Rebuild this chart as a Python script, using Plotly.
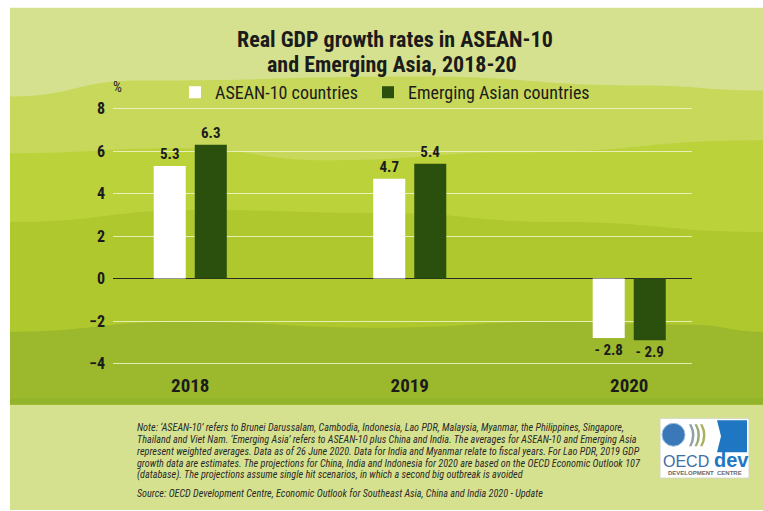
import plotly.graph_objects as go

# ---------------- data ----------------
years = ["2018", "2019", "2020"]
asean10 = [5.3, 4.7, -2.8]
emerging_asia = [6.3, 5.4, -2.9]
series_names = ["ASEAN-10 countries", "Emerging Asian countries"]
y_ticks = [-4, -2, 0, 2, 4, 6, 8]

title_lines = ["Real GDP growth rates in ASEAN-10", "and Emerging Asia, 2018-20"]
note_lines = [
    "Note: ‘ASEAN-10’ refers to Brunei Darussalam, Cambodia, Indonesia, Lao PDR, Malaysia, Myanmar, the Philippines, Singapore,",
    "Thailand and Viet Nam. ‘Emerging Asia’ refers to ASEAN-10 plus China and India. The averages for ASEAN-10 and Emerging Asia",
    "represent weighted averages. Data as of 26 June 2020. Data for India and Myanmar relate to fiscal years. For Lao PDR, 2019 GDP",
    "growth data are estimates. The projections for China, India and Indonesia for 2020 are based on the OECD Economic Outlook 107",
    "(database). The projections assume single hit scenarios, in which a second big outbreak is avoided",
]
source_line = "Source: OECD Development Centre, Economic Outlook for Southeast Asia, China and India 2020 - Update"

# ---------------- layout geometry (pixels) ----------------
W, H = 763, 511
PL, PR, PT, PB = 113, 692, 99.5, 372.5   # plot area edges


def px(x):
    return (x - PL) / (PR - PL)


def py(y):
    return (PB - y) / (PB - PT)


NARROW = "Liberation Sans Narrow, Arial Narrow, Roboto Condensed, DejaVu Sans Condensed, sans-serif"
TXT = "#1b1b1b"


def fmt(v):
    return f"{v:.1f}" if v >= 0 else f"- {abs(v):.1f}"


def wave_path(points, bottom):
    d = f"M {px(points[0][0])},{py(bottom)} L {px(points[0][0])},{py(points[0][1])}"
    for (x0, y0), (x1, y1) in zip(points[:-1], points[1:]):
        dx = (x1 - x0) / 2
        d += (f" C {px(x0 + dx)},{py(y0)} {px(x1 - dx)},{py(y1)} {px(x1)},{py(y1)}")
    d += f" L {px(points[-1][0])},{py(bottom)} Z"
    return d


fig = go.Figure()
fig.add_trace(go.Bar(
    x=years, y=asean10, name=series_names[0], legend="legend",
    marker=dict(color="#ffffff", line=dict(width=0)),
    text=[fmt(v) for v in asean10], textposition="outside",
    textfont=dict(family=NARROW, size=15, color=TXT, weight="bold"),
    cliponaxis=False,
))
fig.add_trace(go.Bar(
    x=years, y=emerging_asia, name=series_names[1], legend="legend2",
    marker=dict(color="#2b4f0d", line=dict(width=0)),
    text=[fmt(v) for v in emerging_asia], textposition="outside",
    textfont=dict(family=NARROW, size=15, color=TXT, weight="bold"),
    cliponaxis=False,
))

shapes = []
# white outer frame + header light green
shapes.append(dict(type="rect", xref="paper", yref="paper", layer="below",
                   x0=px(10), x1=px(W), y0=py(7), y1=py(H),
                   fillcolor="#d6e18f", line=dict(width=0)))
bands = [
    ("#c8d85b", [(10, 96), (140, 80), (420, 76), (640, 85), (763, 90)]),
    ("#bcd23b", [(10, 153), (180, 148), (330, 160), (520, 152), (763, 140)]),
    ("#afc82d", [(10, 222), (200, 210), (380, 213), (560, 222), (763, 232)]),
    ("#9cb82c", [(10, 332), (180, 322), (380, 328), (560, 322), (690, 325), (763, 332)]),
]
for col, pts in bands:
    shapes.append(dict(type="path", xref="paper", yref="paper", layer="below",
                       path=wave_path(pts, 405), fillcolor=col, line=dict(width=0)))
shapes.append(dict(type="rect", xref="paper", yref="paper", layer="below",
                   x0=px(10), x1=px(W), y0=py(399), y1=py(405),
                   fillcolor="#92b42b", line=dict(width=0)))

# OECD logo (decoration)
shapes.append(dict(type="rect", xref="paper", yref="paper",
                   x0=px(660), x1=px(749), y0=py(419), y1=py(479),
                   fillcolor="#ffffff", line=dict(color="#d0d8c0", width=1)))
shapes.append(dict(type="path", xref="paper", yref="paper",
                   path=(f"M {px(717)},{py(421)} L {px(747)},{py(421)} L {px(747)},{py(453)} "
                         f"L {px(717)},{py(453)} L {px(721)},{py(437)} Z"),
                   fillcolor="#1f76c2", line=dict(width=0)))
shapes.append(dict(type="circle", xref="paper", yref="paper",
                   x0=px(662), x1=px(685), y0=py(424), y1=py(447),
                   fillcolor="#3a78b8", line=dict(color="#9ec2e6", width=1)))
for i, c in enumerate(["#8da0a8", "#9aa87a", "#a8b060"]):
    x0 = 689 + i * 5.5
    shapes.append(dict(type="path", xref="paper", yref="paper",
                       path=(f"M {px(x0)},{py(425)} Q {px(x0 + 6)},{py(436)} {px(x0)},{py(447)} "
                             f"L {px(x0 + 2.5)},{py(447)} Q {px(x0 + 8.5)},{py(436)} {px(x0 + 2.5)},{py(425)} Z"),
                       fillcolor=c, line=dict(width=0)))

annotations = []
# title
annotations.append(dict(text=title_lines[0], x=px(395), y=py(38.5), xref="paper", yref="paper",
                        showarrow=False, xanchor="center", yanchor="middle",
                        font=dict(family=NARROW, size=22, color=TXT, weight="bold")))
annotations.append(dict(text=title_lines[1], x=px(392), y=py(63.5), xref="paper", yref="paper",
                        showarrow=False, xanchor="center", yanchor="middle",
                        font=dict(family=NARROW, size=22, color=TXT, weight="bold")))
# unit label
annotations.append(dict(text="%", x=px(117), y=py(86), xref="paper", yref="paper",
                        showarrow=False, xanchor="center", yanchor="middle",
                        font=dict(family=NARROW, size=14, color=TXT)))
# notes
for i, line in enumerate(note_lines):
    annotations.append(dict(text=f"<i>{line}</i>", x=px(135), y=py(428 + 12 * i),
                            xref="paper", yref="paper", showarrow=False,
                            xanchor="left", yanchor="middle",
                            font=dict(family=NARROW, size=10.2, color="#2a2a2a")))
annotations.append(dict(text=f"<i>{source_line}</i>", x=px(135), y=py(494),
                        xref="paper", yref="paper", showarrow=False,
                        xanchor="left", yanchor="middle",
                        font=dict(family=NARROW, size=10.2, color="#2a2a2a")))
# logo texts
annotations.append(dict(text="OECD", x=px(686), y=py(462), xref="paper", yref="paper",
                        showarrow=False, xanchor="center", yanchor="middle",
                        font=dict(family="Liberation Sans, Arial, sans-serif", size=16, color="#3d6ea6")))
annotations.append(dict(text="<b>dev</b>", x=px(731), y=py(461), xref="paper", yref="paper",
                        showarrow=False, xanchor="center", yanchor="middle",
                        font=dict(family="Liberation Sans, Arial, sans-serif", size=20, color="#1f76c2")))
annotations.append(dict(text="<b>DEVELOPMENT  CENTRE</b>", x=px(704.5), y=py(474), xref="paper", yref="paper",
                        showarrow=False, xanchor="center", yanchor="middle",
                        font=dict(family="Liberation Sans, Arial, sans-serif", size=6, color="#6a6a6a")))

legend_common = dict(orientation="h", yanchor="middle", bgcolor="rgba(0,0,0,0)",
                     font=dict(family=NARROW, size=18, color=TXT), itemclick=False,
                     borderwidth=0)

fig.update_layout(
    width=W, height=H,
    margin=dict(l=PL, r=W - PR, t=PT, b=H - PB, pad=0),
    paper_bgcolor="#ffffff",
    plot_bgcolor="rgba(0,0,0,0)",
    barmode="group",
    bargap=0.626,
    bargroupgap=0.22,
    showlegend=True,
    legend=dict(x=px(175), y=py(92), xanchor="left", **legend_common),
    legend2=dict(x=px(368), y=py(92), xanchor="left", **legend_common),
    shapes=shapes,
    annotations=annotations,
    xaxis=dict(type="category", range=[-0.352, 2.286], showgrid=False, zeroline=False,
               showline=False, ticks="", ticklabelstandoff=0,
               tickfont=dict(family=NARROW, size=19, color=TXT, weight="bold")),
    yaxis=dict(range=[-4.4, 8.4], tickvals=y_ticks, showgrid=True,
               gridcolor="rgba(238,244,205,0.85)", gridwidth=1,
               zeroline=True, zerolinecolor="#2a2a2a", zerolinewidth=1.2,
               showline=False, ticks="", ticklabelstandoff=7,
               tickfont=dict(family=NARROW, size=16, color=TXT, weight="bold")),
)

fig.write_html(
    "out.html",
    config={"displayModeBar": False},
    post_script="document.body.style.margin='0';document.body.style.padding='0';document.body.style.overflow='hidden';",
)
